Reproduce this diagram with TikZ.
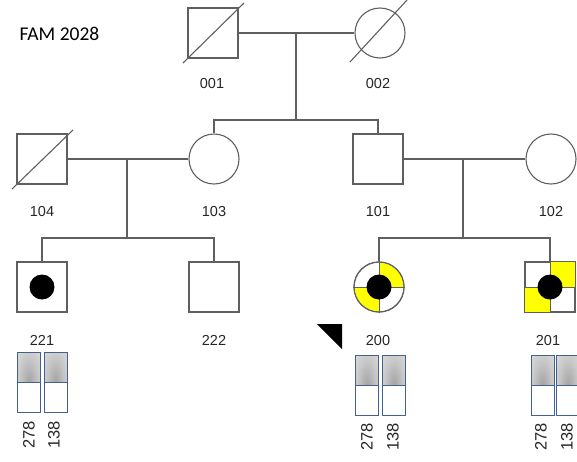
\documentclass[tikz,border=0pt]{standalone}
\usepackage{fontspec}
\usetikzlibrary{calc}
\setmainfont{Liberation Sans}
\newfontfamily\titlefont{Carlito}
\definecolor{linegray}{HTML}{5F5F5F}
\definecolor{barblue}{HTML}{41628F}
\definecolor{affyellow}{HTML}{FFFF00}
% soft grey glow for the upper half of each marker bar
\pgfdeclareradialshading{hapglow}{\pgfpoint{0bp}{0bp}}{%
  color(0bp)=(black!36); color(20bp)=(black!22); color(40bp)=(black!12); color(50bp)=(black!10)}
\begin{document}
\begin{tikzpicture}[x=1pt,y=-1pt,
  line width=1.1pt,
  male/.style={draw=linegray,fill=white,rectangle,minimum size=50pt,inner sep=0pt},
  female/.style={draw=linegray,fill=white,circle,minimum size=50pt,inner sep=0pt},
  link/.style={draw=linegray,line width=1.1pt},
  deadmark/.style={draw=linegray,line width=1.1pt},
  idlabel/.style={font=\fontsize{14.5}{16}\selectfont,text=black!85,inner sep=0pt},
  markerlabel/.style={font=\fontsize{16.5}{18}\selectfont,text=black!85,inner sep=0pt,rotate=90},
  hapbar/.style={draw=barblue,line width=1pt,fill=white,rectangle,
    minimum width=23pt,minimum height=60pt,inner sep=0pt,
    path picture={\shade[shading=hapglow]
      (path picture bounding box.north west) rectangle (path picture bounding box.east);
      \draw[barblue,line width=1pt] (path picture bounding box.west) -- (path picture bounding box.east);}},
  dot/.style={circle,fill=black,minimum size=25pt,inner sep=0pt}
]
\useasboundingbox (0,0) rectangle (577,461);

% family title
\node[anchor=west,font=\titlefont\fontsize{19.5}{22}\selectfont,inner sep=0pt] (title) at (19,34) {FAM 2028};

% generation I
\node[male] (n001) at (213,33) {};
\node[female] (n002) at (380,33) {};
\coordinate (m1) at (296,33);
\draw[deadmark] ($(n001.center)+(-30,30)$) -- ($(n001.center)+(31,-30)$);
\draw[deadmark] ($(n002.center)+(-30,29)$) -- ($(n002.center)+(27,-33)$);
\node[idlabel] (l001) at (212,84) {001};
\node[idlabel] (l002) at (378,84) {002};

% generation II
\node[male] (n104) at (42,159) {};
\node[female] (n103) at (214,159) {};
\node[male] (n101) at (378,159) {};
\node[female] (n102) at (551,159) {};
\draw[deadmark] ($(n104.center)+(-30,30)$) -- ($(n104.center)+(31,-29)$);
\node[idlabel] (l104) at (42,212) {104};
\node[idlabel] (l103) at (214,212) {103};
\node[idlabel] (l101) at (378,212) {101};
\node[idlabel] (l102) at (551,212) {102};

% generation III
\node[male] (n221) at (42,287) {};
\node[dot] (d221) at (n221.center) {};
\node[male] (n222) at (214,287) {};

% 200: quartered circle, two quadrants yellow, central dot
\node[female] (n200) at (379,287) {};
\begin{scope}
  \clip (n200.center) circle[radius=24.5];
  \fill[affyellow] (n200.center) rectangle ++(26,-26);
  \fill[affyellow] (n200.center) rectangle ++(-26,26);
\end{scope}
\draw[linegray,line width=0.9pt] (n200.north) -- (n200.south) (n200.west) -- (n200.east);
\draw[linegray,line width=1.1pt] (n200.center) circle[radius=25];
\node[dot] (d200) at (n200.center) {};

% 201: quartered square, two quadrants yellow, central dot
\node[male] (n201) at (550,287) {};
\fill[affyellow] (n201.center) rectangle (n201.north east);
\fill[affyellow] (n201.center) rectangle (n201.south west);
\draw[linegray,line width=0.9pt] (n201.north) -- (n201.south) (n201.west) -- (n201.east);
\draw[linegray,line width=1.1pt] (n201.north west) rectangle (n201.south east);
\node[dot] (d201) at (n201.center) {};

\node[idlabel] (l221) at (42,340) {221};
\node[idlabel] (l222) at (214,340) {222};
\node[idlabel] (l200) at (378,340) {200};
\node[idlabel] (l201) at (548,340) {201};

% proband arrow
\fill[black] (317,324) -- (342,324) -- (342,349) -- cycle;

% connecting lines
\coordinate (m2) at (127,159);
\coordinate (m3) at (463,159);
\coordinate (s1) at (296,120);
\coordinate (s2) at (127,238);
\coordinate (s3) at (463,238);
\draw[link] (n001.east) -- (n002.west);
\draw[link] (m1) -- (s1);
\draw[link] (n103.north) |- (s1) -| (n101.north);
\draw[link] (n104.east) -- (n103.west);
\draw[link] (n101.east) -- (n102.west);
\draw[link] (m2) -- (s2);
\draw[link] (m3) -- (s3);
\draw[link] (n221.north) |- (s2) -| (n222.north);
\draw[link] (n200.north) |- (s3) -| (n201.north);

% haplotype bars
\node[hapbar] (h221a) at (29,382) {};
\node[hapbar] (h221b) at (55.5,382) {};
\node[hapbar] (h200a) at (367,385) {};
\node[hapbar] (h200b) at (394,385) {};
\node[hapbar] (h201a) at (542.5,385) {};
\node[hapbar] (h201b) at (568,385) {};

% marker labels
\node[markerlabel] (k221a) at (29,435) {278};
\node[markerlabel] (k221b) at (54,435) {138};
\node[markerlabel] (k200a) at (367,437) {278};
\node[markerlabel] (k200b) at (393,437) {138};
\node[markerlabel] (k201a) at (541,437) {278};
\node[markerlabel] (k201b) at (567,437) {138};
\end{tikzpicture}
\end{document}
